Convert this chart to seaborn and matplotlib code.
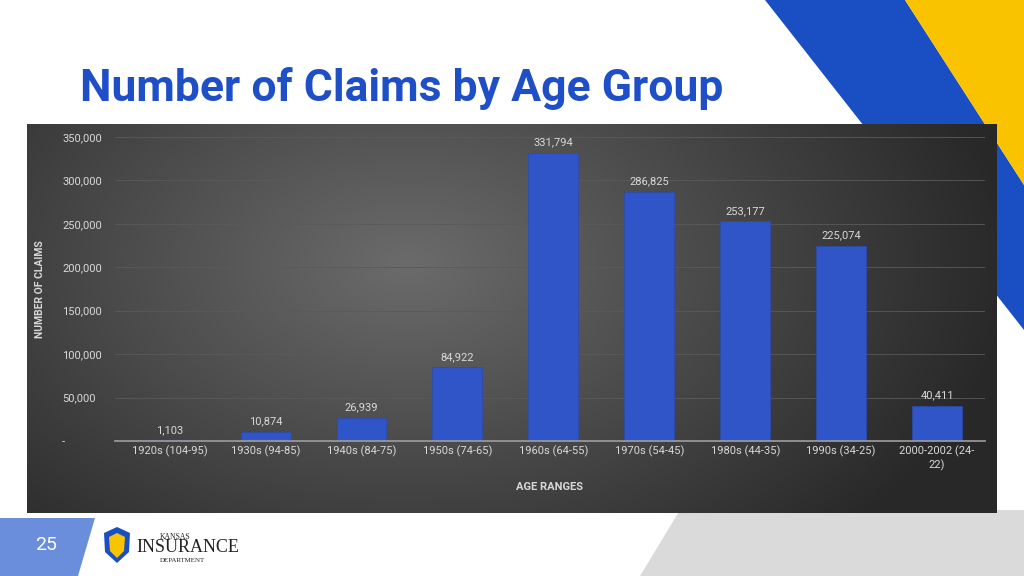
import numpy as np
import matplotlib
matplotlib.use("Agg")
import matplotlib.pyplot as plt
import seaborn as sns
from matplotlib.patches import Polygon
from matplotlib.ticker import FuncFormatter

categories = ["1920s (104-95)", "1930s (94-85)", "1940s (84-75)", "1950s (74-65)",
              "1960s (64-55)", "1970s (54-45)", "1980s (44-35)", "1990s (34-25)",
              "2000-2002 (24-\n22)"]
claims = [1103, 10874, 26939, 84922, 331794, 286825, 253177, 225074, 40411]

sns.set_theme(style="dark")
plt.rcParams['font.family'] = ['Roboto', 'DejaVu Sans']

W, H = 1024, 576
fig = plt.figure(figsize=(W/100, H/100), dpi=100)
fig.patch.set_facecolor("white")

def P(pts):
    return [(x/W, 1-y/H) for x, y in pts]

def poly(pts, color, z=-5):
    p = Polygon(P(pts), closed=True, transform=fig.transFigure, facecolor=color,
                edgecolor="none", zorder=z)
    fig.patches.append(p)

# decorations
poly([(765,0),(905,0),(1024,185),(1024,330)], "#1A4FC4")
poly([(905,0),(1024,0),(1024,185)], "#F9C300")
poly([(640,576),(1024,576),(1024,510),(680,510)], "#DADADA")
poly([(0,518),(95,518),(78,576),(0,576)], "#6A8EDB", z=2)
fig.text(46/W, 1-545/H, "25", color="white", fontsize=14, ha="center", va="center")
poly([(104,533),(117,527),(130,533),(129,552),(117,563),(105,552)], "#1A4FC4", z=2)
poly([(109,537),(117,533),(125,537),(124,551),(117,558),(110,551)], "#F9C300", z=3)
fig.text(160/W, 1-537/H, "KANSAS", color="#222", fontsize=5.5, family="Liberation Serif", va="center")
fig.text(136/W, 1-548/H, "INSURANCE", color="#222", fontsize=13, family="Liberation Serif", va="center")
fig.text(160/W, 1-560/H, "DEPARTMENT", color="#222", fontsize=5, family="Liberation Serif", va="center")

fig.text(80/W, 1-88/H, "Number of Claims by Age Group", color="#1F4FC6",
         fontsize=32, fontweight="bold", va="center", ha="left")

# panel background with radial gradient
bg = fig.add_axes([27/W, 1-513/H, 970/W, 389/H])
yy, xx = np.mgrid[0:389, 0:970]
d = np.sqrt(((xx-380)/600)**2 + ((yy-140)/380)**2)
v = np.clip(0.42 - 0.26*d, 0.16, 0.42)
bg.imshow(np.dstack([v, v, v]), aspect="auto", extent=[0, 1, 0, 1])
bg.axis("off")

ax = fig.add_axes([115/W, 1-441/H, 870/W, 304/H])
ax.set_facecolor("none")
sns.barplot(x=categories, y=claims, color="#2F55C9", width=0.52, ax=ax,
            edgecolor="#2A4AAE", linewidth=0.5, saturation=1)
ax.set_xlim(-0.57, 8.5)
ax.set_ylim(0, 350000)
ax.set_yticks(range(0, 350001, 50000))
ax.yaxis.set_major_formatter(FuncFormatter(lambda v, p: "-" if v == 0 else f"{int(v):,}"))
ax.grid(axis="y", color="#5a5a5a", linewidth=0.6)
ax.set_axisbelow(True)
for s in ["top", "right", "left"]:
    ax.spines[s].set_visible(False)
ax.spines["bottom"].set_color("#9a9a9a")
ax.tick_params(colors="#d9d9d9", labelsize=8, length=0)
ax.tick_params(axis="y", pad=38)
for lab in ax.get_yticklabels():
    lab.set_horizontalalignment("left")
for i, v in enumerate(claims):
    ax.text(i, v + 6000, f"{v:,}", ha="center", va="bottom", color="#d9d9d9", fontsize=8)
ax.set_xlabel("AGE RANGES", color="#d9d9d9", fontsize=8, fontweight="bold", labelpad=8)
ax.set_ylabel("NUMBER OF CLAIMS", color="#d9d9d9", fontsize=7.5, fontweight="bold")
ax.yaxis.set_label_coords(-70/870, 0.5)

fig.savefig("out.png", dpi=100)
